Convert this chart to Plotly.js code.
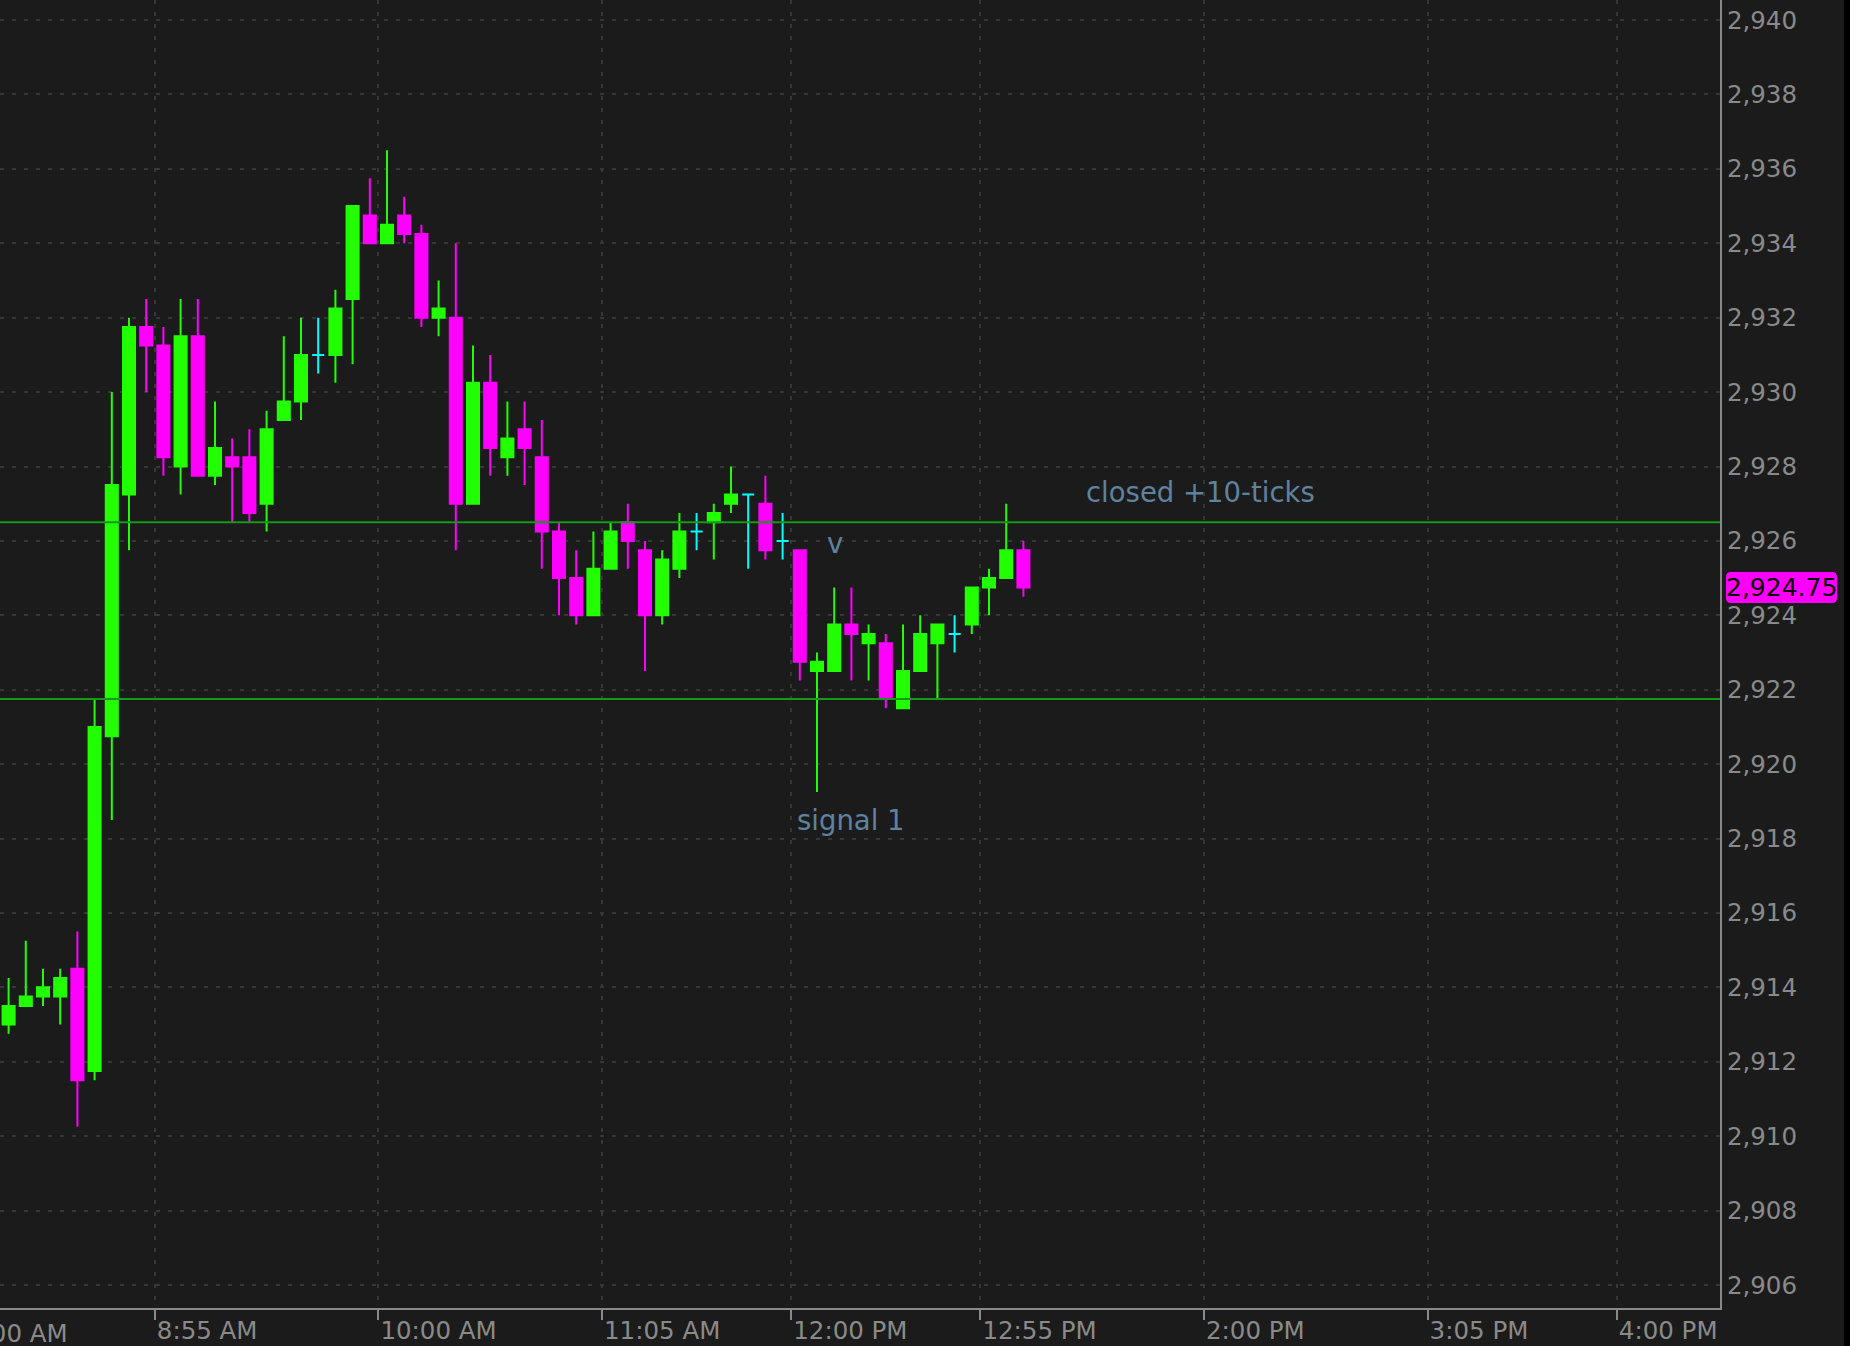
<!DOCTYPE html>
<html>
<head>
<meta charset="utf-8">
<script src="https://cdn.plot.ly/plotly-3.0.1.min.js"></script>
<style>
html,body{margin:0;padding:0;background:#1b1b1b;overflow:hidden;}
#chart{width:1850px;height:1346px;}
</style>
</head>
<body>
<div id="chart"></div>
<script>
// ---- data (5-minute bars, start times) ----
const day = '2019-09-05';
const times = ['08:10','08:15','08:20','08:25','08:30','08:35','08:40','08:45','08:50','08:55',
               '09:00','09:05','09:10','09:15','09:20','09:25','09:30','09:35','09:40','09:45',
               '09:50','09:55','10:00','10:05','10:10','10:15','10:20','10:25','10:30','10:35',
               '10:40','10:45','10:50','10:55','11:00','11:05','11:10','11:15','11:20','11:25',
               '11:30','11:35','11:40','11:45','11:50','11:55','12:00','12:05','12:10','12:15',
               '12:20','12:25','12:30','12:35','12:40','12:45','12:50','12:55','13:00','13:05'];
const opens  = [2913,2913.5,2913.75,2913.75,2914.5,2911.75,2920.75,2927.25,2931.75,2931.25,
                2928,2931.5,2927.75,2928.25,2928.25,2927,2929.25,2929.75,2931,2931,
                2932.5,2934.75,2934,2934.75,2934.25,2932,2932,2927,2930.25,2928.25,
                2929,2928.25,2926.25,2925,2924,2925.25,2926.5,2925.75,2924,2925.25,
                2926.25,2926.5,2927,2927.25,2927,2926,2925.75,2922.5,2922.5,2923.75,
                2923.25,2923.25,2921.5,2922.5,2923.25,2923.5,2923.75,2924.75,2925,2925.75];
const highs  = [2914.25,2915.25,2914.5,2914.5,2915.5,2921.75,2930,2932,2932.5,2931.75,
                2932.5,2932.5,2929.75,2928.75,2929,2929.5,2931.5,2932,2932,2932.75,
                2935,2935.75,2936.5,2935.25,2934.5,2933,2934,2931.25,2931,2929.75,
                2929.75,2929.25,2926.5,2925.75,2926.25,2926.5,2927,2926,2925.75,2926.75,
                2926.75,2927,2928,2927.25,2927.75,2926.75,2925.75,2923,2924.75,2924.75,
                2923.75,2923.5,2923.75,2924,2923.75,2924,2924.75,2925.25,2927,2926];
const lows   = [2912.75,2913.5,2913.5,2913,2910.25,2911.5,2918.5,2925.75,2930,2927.75,
                2927.25,2927.75,2927.5,2926.5,2926.5,2926.25,2929.25,2929.25,2930.5,2930.25,
                2930.75,2934,2934,2934,2931.75,2931.5,2925.75,2927,2927.75,2927.75,
                2927.5,2925.25,2924,2923.75,2924,2925.25,2925.25,2922.5,2923.75,2925,
                2925.75,2925.5,2926.75,2925.25,2925.5,2925.5,2922.25,2919.25,2922.5,2922.25,
                2922.25,2921.5,2921.5,2922.5,2921.75,2923,2923.5,2924,2925,2924.5];
const closes = [2913.5,2913.75,2914,2914.25,2911.5,2921,2927.5,2931.75,2931.25,2928.25,
                2931.5,2927.75,2928.5,2928,2926.75,2929,2929.75,2931,2931,2932.25,
                2935,2934,2934.5,2934.25,2932,2932.25,2927,2930.25,2928.5,2928.75,
                2928.5,2926.25,2925,2924,2925.25,2926.25,2926,2924,2925.5,2926.25,
                2926.25,2926.75,2927.25,2927.25,2925.75,2926,2922.75,2922.75,2923.75,2923.5,
                2923.5,2921.75,2922.5,2923.5,2923.75,2923.5,2924.75,2925,2925.75,2924.75];

const tickTimes  = ['08:55','10:00','11:05','12:00','12:55','14:00','15:05','16:00'];
const tickLabels = ['8:55 AM','10:00 AM','11:05 AM','12:00 PM','12:55 PM','2:00 PM','3:05 PM','4:00 PM'];
const offTickLabel = '8:00 AM';
const levelPrices = [2926.5, 2921.75];
const lastPrice = 2924.75;
const notes = [
  {text:'closed +10-ticks', time:'13:25:00', price:2927.32, anchor:'left'},
  {text:'v',                time:'12:12:45', price:2925.95, anchor:'center'},
  {text:'signal 1',         time:'12:01:00', price:2918.5,  anchor:'left'}
];

// ---- styling ----
const BG = '#1b1b1b', GREEN = '#22ff00', MAG = '#ff00ff', CYAN = '#00ffff';
const AXIS = '#8a8a8a', GRID = '#363636', NOTE = '#5e829f', LEVEL = '#129a12';
const FONT = 'DejaVu Sans';

const reg = {x:[],open:[],high:[],low:[],close:[]};
const doj = {x:[],open:[],high:[],low:[],close:[]};
times.forEach((t,i)=>{
  const g = opens[i] === closes[i] ? doj : reg;
  g.x.push(day + ' ' + t); g.open.push(opens[i]); g.high.push(highs[i]);
  g.low.push(lows[i]); g.close.push(closes[i]);
});

function candle(src, up, down){
  return Object.assign({
    type:'candlestick', xperiod:300000, xperiodalignment:'middle',
    whiskerwidth:0, hoverinfo:'skip', showlegend:false,
    increasing:{line:{color:up,width:2}, fillcolor:up},
    decreasing:{line:{color:down,width:2}, fillcolor:down}
  }, src);
}
const data = [candle(reg, GREEN, MAG), candle(doj, CYAN, CYAN)];

const shapes = levelPrices.map(p=>({type:'line', xref:'paper', x0:0, x1:1, yref:'y', y0:p, y1:p,
  line:{color:LEVEL, width:2}, layer:'above'}));
shapes.push({type:'rect', xref:'paper', yref:'paper', x0:1844/1720, x1:1.1, y0:-0.1, y1:1.1,
  fillcolor:'#000', line:{width:0}});

// rounded price tag behind the last-price label (paper x, pixel-based half height)
(function(){
  const W = 1720, H = 1308, pxPerPt = H / (2940.54 - 2905.38);
  const x0 = 1726/W, x1 = 1837/W, rx = 5/W;
  const half = 15.5/pxPerPt, ry = 5/pxPerPt;
  const yT = lastPrice + half, yB = lastPrice - half;
  const path = `M${x0+rx},${yT} L${x1-rx},${yT} Q${x1},${yT} ${x1},${yT-ry} L${x1},${yB+ry} Q${x1},${yB} ${x1-rx},${yB} ` +
               `L${x0+rx},${yB} Q${x0},${yB} ${x0},${yB+ry} L${x0},${yT-ry} Q${x0},${yT} ${x0+rx},${yT} Z`;
  shapes.push({type:'path', xref:'paper', yref:'y', path:path, fillcolor:MAG, line:{width:0}, layer:'above'});
})();

const annotations = notes.map(n=>({xref:'x', yref:'y', x:day+' '+n.time, y:n.price, text:n.text,
  showarrow:false, xanchor:n.anchor, yanchor:'middle', font:{family:FONT, size:27.5, color:NOTE}}));
annotations.push({xref:'paper', yref:'y', x:1781.5/1720, y:lastPrice, xanchor:'center', yanchor:'middle',
  text:lastPrice.toLocaleString('en-US',{minimumFractionDigits:2}), showarrow:false,
  borderpad:0, borderwidth:0, font:{family:FONT, size:25, color:'#000'}});
annotations.push({xref:'paper', yref:'paper', x:-35/1720, y:-0.0067, xanchor:'left', yanchor:'top',
  text:offTickLabel, showarrow:false, font:{family:FONT, size:24.5, color:AXIS}});

const layout = {
  width:1850, height:1346,
  paper_bgcolor:BG, plot_bgcolor:BG,
  margin:{l:0, r:130, t:0, b:38, pad:0},
  showlegend:false, hovermode:false,
  boxgap:0.3, boxgroupgap:0,
  xaxis:{type:'date', range:[day+' 08:10', day+' 16:30'], rangeslider:{visible:false},
    tickmode:'array', tickvals:tickTimes.map(t=>day+' '+t), ticktext:tickLabels,
    ticklabelposition:'outside right', ticklabelstandoff:1.5,
    ticks:'outside', ticklen:10, tickwidth:2, tickcolor:AXIS,
    showline:true, linecolor:AXIS, linewidth:2, zeroline:false,
    showgrid:true, gridcolor:GRID, gridwidth:2, griddash:'4px,8px',
    tickfont:{family:FONT, size:24.5, color:AXIS}, fixedrange:true},
  yaxis:{side:'right', range:[2905.38, 2940.54], tick0:2906, dtick:2, tickformat:',d',
    ticks:'', showline:true, linecolor:AXIS, linewidth:2, zeroline:false,
    showgrid:true, gridcolor:GRID, gridwidth:2, griddash:'4px,8px',
    tickfont:{family:FONT, size:24.5, color:AXIS}, fixedrange:true},
  shapes:shapes, annotations:annotations
};

Plotly.newPlot('chart', data, layout, {displayModeBar:false, staticPlot:true});
</script>
</body>
</html>
